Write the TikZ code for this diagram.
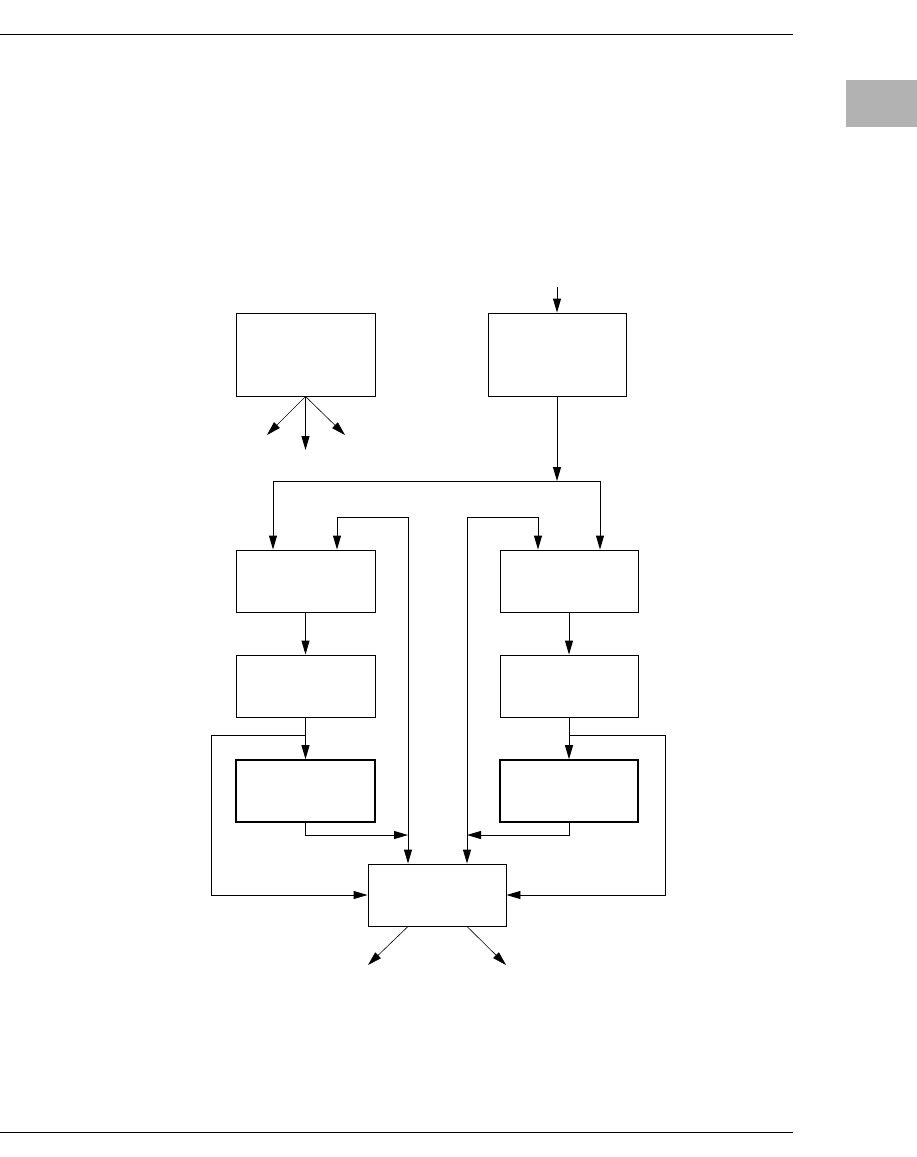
\documentclass[tikz,border=0pt]{standalone}
\usepackage{tikz}
\usetikzlibrary{arrows.meta, positioning, calc}

\begin{document}
\begin{tikzpicture}[
    x=1pt, y=-1pt,
    blk/.style={rectangle, draw=black, line width=0.9pt, inner sep=0pt, minimum width=139pt, minimum height=62pt},
    tallblk/.style={blk, minimum height=83pt},
    thickblk/.style={blk, line width=1.6pt},
    arrow/.style={-{Triangle[length=14pt, width=8pt]}, line width=0.9pt},
    biarrow/.style={{Triangle[length=14pt, width=8pt]}-{Triangle[length=14pt, width=8pt]}, line width=0.9pt},
    fan/.style={-{Triangle[length=14pt, width=8pt]}, line width=0.6pt}
]
\useasboundingbox (0,0) rectangle (917,1157);

% page rules and tab
\draw[line width=1pt] (0,34) -- (793,34);
\draw[line width=1pt] (0,1132) -- (793,1132);
\fill[black!30] (846,80) rectangle (917,127);

% top row
\node[tallblk] (src) at (305.5,354.5) {};
\node[tallblk, minimum width=138pt] (ctl) at (557,354.5) {};

% two chains
\node[blk] (lin) at (305.5,581) {};
\node[blk, minimum width=138pt] (rin) at (569,581) {};
\node[blk] (lmid) at (305.5,686) {};
\node[blk, minimum width=138pt] (rmid) at (569,686) {};
\node[thickblk] (lout) at (305.5,791) {};
\node[thickblk, minimum width=138pt] (rout) at (569,791) {};

% merge
\node[blk, minimum width=138pt] (merge) at (437,895) {};

% free ends
\coordinate (feed) at (557,287);
\coordinate (fanA) at (267,435);
\coordinate (fanB) at (305.5,450);
\coordinate (fanC) at (345,435);
\coordinate (split) at (557,481);
\coordinate (splitL) at (273,481);
\coordinate (splitR) at (600,481);
\coordinate (loopL) at (408,517);
\coordinate (loopR) at (467,517);
\coordinate (tapL) at (305.5,735);
\coordinate (tapR) at (569,735);
\coordinate (outA) at (368,965);
\coordinate (outB) at (506,965);

\draw[arrow] (feed) -- (ctl);
\draw[fan] (src.south) -- (fanA);
\draw[arrow] (src.south) -- (fanB);
\draw[fan] (src.south) -- (fanC);

\draw[arrow] (ctl) -- (split);
\draw[line width=0.9pt] (splitL) -- (splitR);
\draw[arrow] (splitL) -- (splitL |- lin.north);
\draw[arrow] (splitR) -- (splitR |- rin.north);

\draw[biarrow] (337,0 |- lin.north) |- (loopL) -- (loopL |- merge.north);
\draw[biarrow] (538,0 |- rin.north) |- (loopR) -- (loopR |- merge.north);

\draw[arrow] (lin) -- (lmid);
\draw[arrow] (rin) -- (rmid);
\draw[arrow] (lmid) -- (lout);
\draw[arrow] (rmid) -- (rout);

\draw[arrow] (lout.south) |- (loopL |- 0,835);
\draw[arrow] (rout.south) |- (loopR |- 0,835);

\draw[arrow] (tapL) -- (211,735) |- (merge.west);
\draw[arrow] (tapR) -- (665,735) |- (merge.east);

\draw[fan] (merge.south -| loopL) -- (outA);
\draw[fan] (merge.south -| loopR) -- (outB);

\end{tikzpicture}
\end{document}
